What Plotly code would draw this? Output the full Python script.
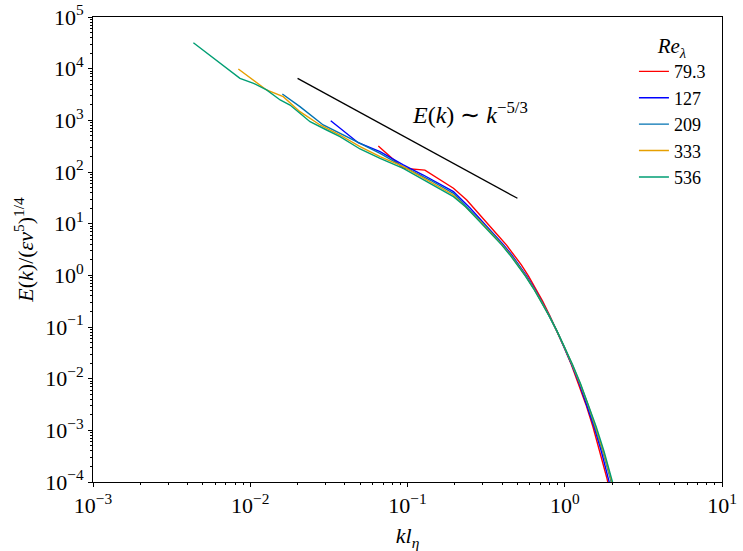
import plotly.graph_objects as go

# ---- data ----
re_labels = ["79.3", "127", "209", "333", "536"]
colors = ["#FF0000", "#0000FF", "#0072B2", "#E69F00", "#009E73"]

k_793 = [0.0652, 0.094, 0.129, 0.196, 0.238,
         0.3388, 0.3802, 0.4266, 0.4764, 0.5297, 0.5884, 0.6531, 0.7244, 0.8023,
         0.8897, 0.9904, 1.1022, 1.2256, 1.3615, 1.5113, 1.6761, 1.8566, 2.0540]
E_793 = [319, 118, 109, 48.4, 28.7,
         8.24, 5.69, 3.84, 2.51, 1.59, 0.966, 0.562, 0.313, 0.166,
         0.0841, 0.0407, 0.01866, 0.00804, 0.00321, 0.001172, 0.000389, 0.000116, 3.09e-5]

k_127 = [0.0325, 0.0486, 0.0669, 0.094, 0.126, 0.196, 0.25,
         0.3256, 0.3653, 0.4100, 0.4589, 0.5131, 0.5731, 0.6403, 0.7148, 0.7980,
         0.8902, 0.9936, 1.1089, 1.2369, 1.3786, 1.5359, 1.7100, 1.9024, 2.1150]
E_127 = [984, 369, 247, 137, 87.5, 41.6, 20.0,
         8.24, 5.69, 3.84, 2.51, 1.59, 0.966, 0.562, 0.313, 0.166,
         0.0841, 0.0407, 0.01866, 0.00804, 0.00321, 0.001172, 0.000389, 0.000116, 3.09e-5]

k_209 = [0.016, 0.0207, 0.0291, 0.0411, 0.0669, 0.094, 0.139, 0.196, 0.289,
         0.3208, 0.3600, 0.4041, 0.4526, 0.5072, 0.5677, 0.6356, 0.7113, 0.7962,
         0.8906, 0.9968, 1.1153, 1.2477, 1.3955, 1.5607, 1.7446, 1.9480, 2.1758]
E_209 = [3230, 1840, 813, 483, 230, 127, 70, 38.7, 11.8,
         8.24, 5.69, 3.84, 2.51, 1.59, 0.966, 0.562, 0.313, 0.166,
         0.0841, 0.0407, 0.01866, 0.00804, 0.00321, 0.001172, 0.000389, 0.000116, 3.09e-5]

k_333 = [0.0084, 0.0127, 0.0162, 0.0207, 0.0278, 0.0372, 0.0499, 0.0669, 0.094, 0.139, 0.196, 0.289,
         0.3189, 0.3578, 0.4016, 0.4500, 0.5048, 0.5655, 0.6336, 0.7100, 0.7955,
         0.8908, 0.9982, 1.1181, 1.2523, 1.4030, 1.5702, 1.7579, 1.9668, 2.2009]
E_333 = [9850, 3870, 2870, 1470, 813, 520, 309, 198, 127, 65, 35.9, 11.3,
         8.24, 5.69, 3.84, 2.51, 1.59, 0.966, 0.562, 0.313, 0.166,
         0.0841, 0.0407, 0.01866, 0.00804, 0.00321, 0.001172, 0.000389, 0.000116, 3.09e-5]

k_536 = [0.00435, 0.0086, 0.0105, 0.0127, 0.0155, 0.0179, 0.0207, 0.024, 0.0306, 0.0372,
         0.0499, 0.0669, 0.094, 0.139, 0.196, 0.235, 0.282,
         0.3162, 0.3548, 0.3981, 0.4467, 0.5012, 0.5623, 0.6310, 0.7079, 0.7943,
         0.8913, 1.0, 1.122, 1.2589, 1.4125, 1.5849, 1.7783, 1.9953, 2.2387]
E_536 = [31800, 6500, 5200, 3870, 2480, 1980, 1370, 940, 650, 483,
         279, 184, 118, 60.5, 33.3, 21.1, 11.8,
         8.24, 5.69, 3.84, 2.51, 1.59, 0.966, 0.562, 0.313, 0.166,
         0.0841, 0.0407, 0.01866, 0.00804, 0.00321, 0.001172, 0.000389, 0.000116, 3.09e-5]

k_ref = [0.02, 0.5]
E_ref = [6500, 31]

x_decades = [-3, -2, -1, 0, 1]
y_decades = [-4, -3, -2, -1, 0, 1, 2, 3, 4, 5]

series_k = [k_793, k_127, k_209, k_333, k_536]
series_E = [E_793, E_127, E_209, E_333, E_536]

FONT = "Liberation Serif"
FS = 22

def sup_label(e):
    s = str(e).replace("-", "\u2212")
    return f"10<sup>{s}</sup>"

def minor_vals(decs):
    vals = []
    for e in decs[:-1]:
        for m in range(2, 10):
            vals.append(m * 10.0 ** e)
    return vals

fig = go.Figure()
for lab, col, kk, EE in zip(re_labels, colors, series_k, series_E):
    fig.add_trace(go.Scatter(x=kk, y=EE, mode="lines", name=lab,
                             line=dict(color=col, width=1.4)))

fig.add_trace(go.Scatter(x=k_ref, y=E_ref, mode="lines", showlegend=False,
                         line=dict(color="black", width=1.3)))

fig.add_annotation(x=-0.6, y=3.14, xref="x", yref="y",
                   text="<i>E</i>(<i>k</i>) \u223c <i>k</i><sup>\u22125/3</sup>",
                   showarrow=False, font=dict(family=FONT, size=24, color="black"))

axis_common = dict(type="log", showgrid=False, zeroline=False, showline=True,
                   linecolor="black", linewidth=1, mirror=True, automargin=False,
                   ticks="outside", ticklen=4, tickwidth=1, tickcolor="black",
                   tickfont=dict(family=FONT, size=FS, color="black"))

fig.update_xaxes(**axis_common, range=[-3, 1],
                 tickvals=[10.0 ** e for e in x_decades],
                 ticktext=[sup_label(e) for e in x_decades],
                 minor=dict(tickvals=minor_vals(x_decades), ticks="outside",
                            ticklen=2, tickwidth=0.8, tickcolor="black"),
                 title=dict(text="<i>kl</i><sub><i>\u03b7</i></sub>",
                            font=dict(family=FONT, size=FS, color="black"), standoff=12))
fig.update_yaxes(**axis_common, range=[-4, 5],
                 tickvals=[10.0 ** e for e in y_decades],
                 ticktext=[sup_label(e) for e in y_decades],
                 minor=dict(tickvals=minor_vals(y_decades), ticks="outside",
                            ticklen=2, tickwidth=0.8, tickcolor="black"),
                 title=dict(text="<i>E</i>(<i>k</i>)/(<i>\u03b5\u03bd</i><sup>5</sup>)<sup>1/4</sup>",
                            font=dict(family=FONT, size=FS, color="black"), standoff=5))

fig.update_layout(
    width=743, height=551, autosize=False,
    margin=dict(l=93, r=21, t=17, b=69, autoexpand=False),
    paper_bgcolor="white", plot_bgcolor="white",
    font=dict(family=FONT, color="black"),
    legend=dict(x=0.86, y=0.981, xanchor="left", yanchor="top",
                bgcolor="rgba(0,0,0,0)", borderwidth=0,
                font=dict(family=FONT, size=18, color="black"),
                title=dict(text="<i>Re</i><sub><i>\u03bb</i></sub>", side="top center",
                           font=dict(family=FONT, size=21, color="black")),
                itemwidth=30, tracegroupgap=0),
    showlegend=True,
)

fig.write_html("out.html")
